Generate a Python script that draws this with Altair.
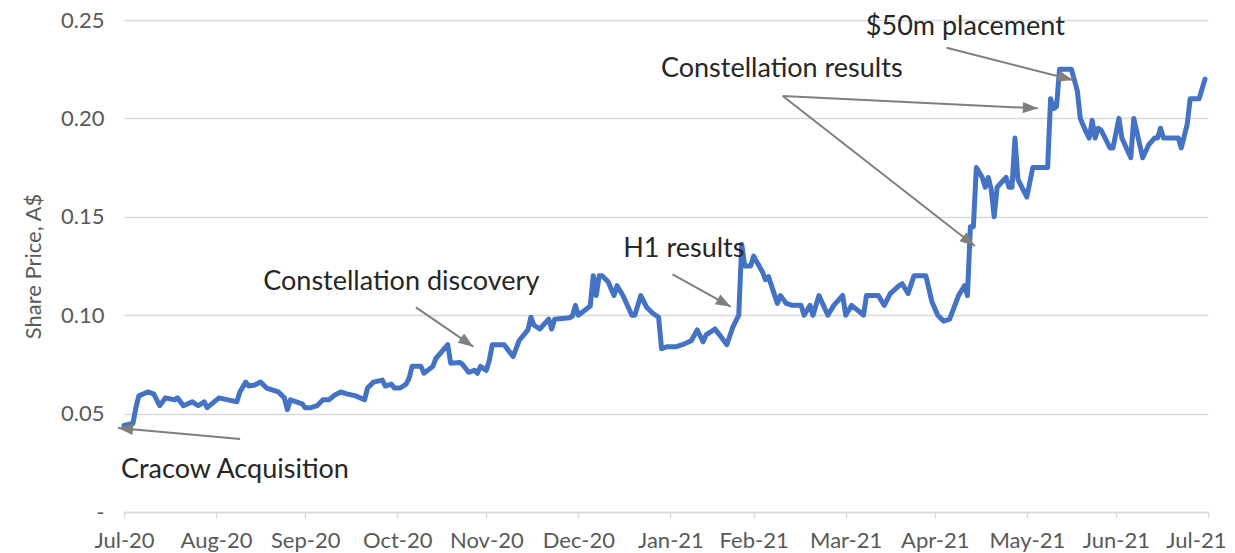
import math
import altair as alt
import pandas as pd

# ---------------- data ----------------
START = "2020-07-31"  # first axis tick (labelled Jul-20)

day_offsets = [0, 3, 4, 5, 8, 10, 12, 14, 17, 18, 20, 23, 25, 27, 28, 32, 35, 38, 39, 41,
               42, 44, 46, 48, 52, 54, 55, 56, 60, 61, 63, 65, 67, 69, 71, 73, 75, 78, 81, 82,
               84, 87, 88, 90, 91, 93, 95, 96, 97, 100, 101, 104, 105, 107, 109, 110, 113, 114, 116, 118,
               119, 120, 122, 123, 124, 128, 131, 133, 136, 137, 138, 140, 143, 144, 145, 150, 151, 152, 153, 157,
               158, 159, 160, 161, 163, 165, 166, 168, 171, 172, 174, 176, 178, 180, 181, 183, 186, 188, 191, 193,
               195, 196, 199, 201, 203, 205, 207, 208, 209, 211, 212, 215, 216, 217, 220, 221, 223, 225, 228, 229,
               231, 232, 234, 237, 239, 242, 243, 245, 247, 249, 250, 254, 256, 258, 261, 262, 264, 266, 270, 272,
               274, 276, 278, 280, 281, 283, 284, 285, 286, 287, 289, 290, 291, 292, 293, 294, 297, 298, 299, 300,
               301, 304, 306, 311, 312, 313, 314, 315, 319, 321, 322, 324, 325, 326, 327, 328, 329, 332, 333, 335,
               336, 339, 340, 343, 345, 347, 348, 349, 350, 355, 356, 358, 359, 362, 364]

prices = [0.044, 0.045, 0.053, 0.059, 0.061, 0.060, 0.054, 0.058, 0.057, 0.058, 0.054, 0.056, 0.054, 0.056, 0.053, 0.058, 0.057, 0.056, 0.061, 0.066,
          0.064, 0.0645, 0.066, 0.063, 0.061, 0.058, 0.052, 0.057, 0.055, 0.053, 0.053, 0.054, 0.057, 0.057, 0.0595, 0.061, 0.060, 0.059, 0.057, 0.063,
          0.066, 0.067, 0.064, 0.065, 0.063, 0.063, 0.065, 0.068, 0.074, 0.074, 0.0705, 0.074, 0.078, 0.0815, 0.085, 0.0756, 0.076, 0.075, 0.071, 0.072,
          0.0705, 0.074, 0.072, 0.077, 0.085, 0.085, 0.079, 0.087, 0.0925, 0.099, 0.095, 0.093, 0.098, 0.093, 0.098, 0.0987, 0.0996, 0.105, 0.100, 0.1047,
          0.120, 0.110, 0.120, 0.120, 0.117, 0.110, 0.115, 0.110, 0.100, 0.100, 0.110, 0.104, 0.101, 0.099, 0.083, 0.084, 0.084, 0.085, 0.087, 0.0925,
          0.0865, 0.090, 0.093, 0.089, 0.085, 0.094, 0.100, 0.136, 0.125, 0.125, 0.130, 0.122, 0.118, 0.1196, 0.106, 0.110, 0.106, 0.105, 0.105, 0.100,
          0.105, 0.100, 0.110, 0.100, 0.105, 0.110, 0.100, 0.105, 0.1026, 0.100, 0.110, 0.110, 0.105, 0.111, 0.115, 0.116, 0.111, 0.120, 0.120, 0.107,
          0.100, 0.097, 0.098, 0.106, 0.110, 0.115, 0.110, 0.145, 0.145, 0.175, 0.170, 0.165, 0.170, 0.164, 0.150, 0.165, 0.170, 0.165, 0.165, 0.190,
          0.169, 0.160, 0.175, 0.175, 0.210, 0.205, 0.206, 0.225, 0.225, 0.214, 0.200, 0.193, 0.190, 0.199, 0.190, 0.195, 0.194, 0.185, 0.185, 0.200,
          0.190, 0.180, 0.200, 0.180, 0.1865, 0.190, 0.190, 0.195, 0.190, 0.190, 0.185, 0.197, 0.210, 0.210, 0.220]

tick_dates = ["2020-07-31", "2020-08-31", "2020-09-30", "2020-10-31", "2020-11-30", "2020-12-31",
              "2021-01-31", "2021-02-28", "2021-03-31", "2021-04-30", "2021-05-31", "2021-06-30", "2021-07-31"]
y_ticks = [0, 0.05, 0.10, 0.15, 0.20, 0.25]

labels = ["Cracow Acquisition", "Constellation discovery", "H1 results", "Constellation results", "$50m placement"]
label_day = [-1.0, 46.9, 168.1, 180.8, 249.8]
label_price = [0.0171, 0.1128, 0.1294, 0.2212, 0.2424]

arrow_start_day = [39.1, 98.3, 184.7, 221.8, 221.8, 277.0]
arrow_start_price = [0.0371, 0.104, 0.1208, 0.2114, 0.2114, 0.2359]
arrow_end_day = [-2.0, 117.6, 204.3, 307.7, 286.5, 319.5]
arrow_end_price = [0.0427, 0.084, 0.1043, 0.2051, 0.1352, 0.2195]

# ---------------- layout / style ----------------
W, H = 1084, 492
PAD_RIGHT = 19
FONT = "Lato"
BLUE = "#4472C4"
GREY = "#7f7f7f"
TXT = "#595959"

start_ts = pd.Timestamp(START, tz="UTC")


def to_ms(d):
    return int((start_ts + pd.Timedelta(days=d)).value // 10**6)


tick_ms = [int(pd.Timestamp(t, tz="UTC").value // 10**6) for t in tick_dates]
x_domain = [tick_ms[0], tick_ms[-1]]
span_days = (tick_ms[-1] - tick_ms[0]) / 86400000.0

xs = alt.Scale(type="utc", domain=x_domain)
ys = alt.Scale(domain=[0, 0.25], nice=False, zero=True)

line_df = pd.DataFrame({
    "t": [to_ms(d) for d in day_offsets],
    "price": prices,
    "idx": list(range(len(prices))),
})

px_day = W / span_days
px_val = H / 0.25
angles = []
for sd, sp, ed, ep in zip(arrow_start_day, arrow_start_price, arrow_end_day, arrow_end_price):
    dx = (ed - sd) * px_day
    dy = -(ep - sp) * px_val
    angles.append(math.degrees(math.atan2(dy, dx)) % 360)

arrow_df = pd.DataFrame({
    "t1": [to_ms(d) for d in arrow_start_day],
    "p1": arrow_start_price,
    "t2": [to_ms(d) for d in arrow_end_day],
    "p2": arrow_end_price,
    "ang": angles,
})

label_df = pd.DataFrame({
    "t": [to_ms(d) for d in label_day],
    "p": label_price,
    "txt": labels,
})

last_test = f"utcFormat(datum.value, '%Y-%m-%d') == '{tick_dates[-1]}'"
x_axis = alt.Axis(
    values=tick_ms, labelExpr="utcFormat(datum.value, '%b-%y')", title="",
    labelFont=FONT, labelFontSize=22, labelColor=TXT, labelPadding=12,
    labelAlign={"condition": {"test": last_test, "value": "right"}, "value": "center"},
    labelOffset={"condition": {"test": last_test, "value": PAD_RIGHT - 1}, "value": 0},
    domainColor="#d9d9d9", domainWidth=1.3, tickColor="#d9d9d9", tickWidth=1.3, tickSize=6,
    grid=False, labelFlush=False, labelOverlap=False,
)
y_axis = alt.Axis(
    values=y_ticks,
    labelExpr="datum.value == 0 ? '-\u00a0\u00a0\u00a0' : format(datum.value, '.2f')",
    labelFont=FONT, labelFontSize=22, labelColor=TXT, labelPadding=20,
    domain=False, ticks=False, grid=True, gridColor="#d9d9d9", gridWidth=1.3,
    title="Share Price, A$", titleFont=FONT, titleFontSize=22, titleFontWeight="normal",
    titleColor=TXT, titleX=-91, titleY=H / 2, titleAngle=270, titleBaseline="middle", titleAlign="center",
)

line = alt.Chart(line_df).mark_line(color=BLUE, strokeWidth=5, strokeJoin="round", strokeCap="round").encode(
    x=alt.X("t:T", scale=xs, axis=x_axis),
    y=alt.Y("price:Q", scale=ys, axis=y_axis),
    order="idx:Q",
)

shafts = alt.Chart(arrow_df).mark_rule(color=GREY, strokeWidth=2).encode(
    x=alt.X("t1:T", scale=xs, axis=x_axis),
    y=alt.Y("p1:Q", scale=ys, axis=y_axis),
    x2="t2:T",
    y2="p2:Q",
)

heads = alt.Chart(arrow_df).mark_point(
    shape="M0,0L-2,-0.75L-2,0.75Z", filled=True, color=GREY, opacity=1, size=225, strokeWidth=0
).encode(
    x=alt.X("t2:T", scale=xs, axis=x_axis),
    y=alt.Y("p2:Q", scale=ys, axis=y_axis),
    angle=alt.Angle("ang:Q", scale=None),
)

texts = alt.Chart(label_df).mark_text(
    align="left", baseline="alphabetic", font=FONT, fontSize=27, color="#262626"
).encode(
    x=alt.X("t:T", scale=xs, axis=x_axis),
    y=alt.Y("p:Q", scale=ys, axis=y_axis),
    text="txt:N",
)

chart = alt.layer(line, shafts, heads, texts).properties(
    width=W, height=H,
    autosize=alt.AutoSizeParams(type="none"),
    padding={"left": 116, "top": 12, "right": PAD_RIGHT, "bottom": 46},
).configure_view(strokeWidth=0)

chart.save("out.html", embed_options={"renderer": "svg", "actions": False})
